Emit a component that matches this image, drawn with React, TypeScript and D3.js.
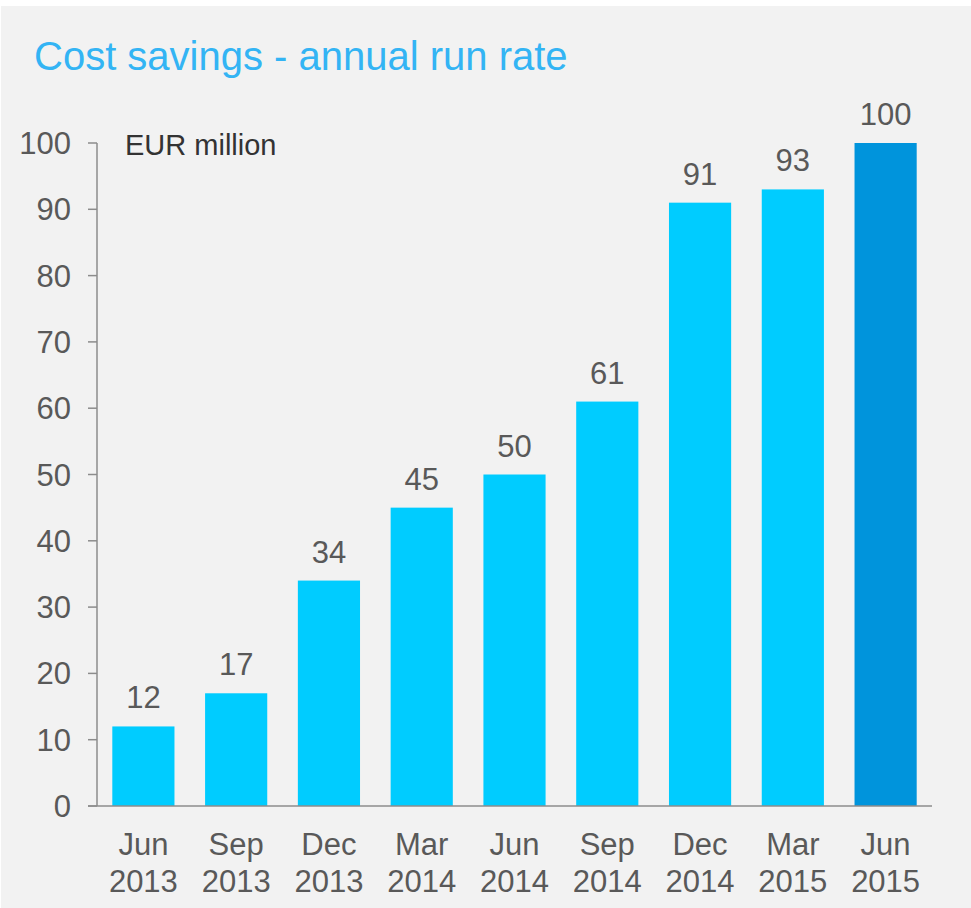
import React from "react";
import * as d3 from "d3";

const categories = ["Jun 2013", "Sep 2013", "Dec 2013", "Mar 2014", "Jun 2014", "Sep 2014", "Dec 2014", "Mar 2015", "Jun 2015"];
const values = [12, 17, 34, 45, 50, 61, 91, 93, 100];
const yTicks = [0, 10, 20, 30, 40, 50, 60, 70, 80, 90, 100];
const title = "Cost savings - annual run rate";
const unitLabel = "EUR million";

const W = 971;
const H = 908;
const FONT = "'Liberation Sans', Arial, sans-serif";

export default function App() {
  const x = d3.scaleBand<string>().domain(categories).range([97, 932]).paddingInner(0.33).paddingOuter(0.165);
  const y = d3.scaleLinear().domain([0, 100]).range([806, 143]);
  return (
    <svg width={W} height={H} style={{ position: "absolute", left: 0, top: 0, display: "block" }} fontFamily={FONT}>
      <rect x={0} y={0} width={W} height={H} fill="#ffffff" />
      <rect x={1} y={6} width={W - 1} height={H - 6} fill="#f2f2f2" />
      <text x={34} y={70} fontSize={40} fill="#33b4f4">{title}</text>
      <text x={125} y={155} fontSize={29} fill="#333333">{unitLabel}</text>
      {values.map((v, i) => {
        const c = categories[i];
        const bx = x(c)!;
        return (
          <g key={c}>
            <rect x={bx} y={y(v)} width={x.bandwidth()} height={y(0) - y(v)} fill={i === values.length - 1 ? "#0094dc" : "#00ccff"} />
            <text x={bx + x.bandwidth() / 2} y={y(v) - 18} textAnchor="middle" fontSize={31} fill="#595959">{v}</text>
          </g>
        );
      })}
      <line x1={97} x2={97} y1={y(100)} y2={y(0)} stroke="#8c8c8c" strokeWidth={1.5} />
      <line x1={88} x2={932} y1={y(0)} y2={y(0)} stroke="#8c8c8c" strokeWidth={1.5} />
      {yTicks.map((t) => (
        <g key={t}>
          <line x1={88} x2={97} y1={y(t)} y2={y(t)} stroke="#8c8c8c" strokeWidth={1.5} />
          <text x={71} y={y(t) + 11} textAnchor="end" fontSize={31} fill="#595959">{t}</text>
        </g>
      ))}
      {categories.map((c) => {
        const [m, yr] = c.split(" ");
        const cx = x(c)! + x.bandwidth() / 2;
        return (
          <text key={c} x={cx} textAnchor="middle" fontSize={31} fill="#595959">
            <tspan x={cx} y={855}>{m}</tspan>
            <tspan x={cx} y={892}>{yr}</tspan>
          </text>
        );
      })}
    </svg>
  );
}
